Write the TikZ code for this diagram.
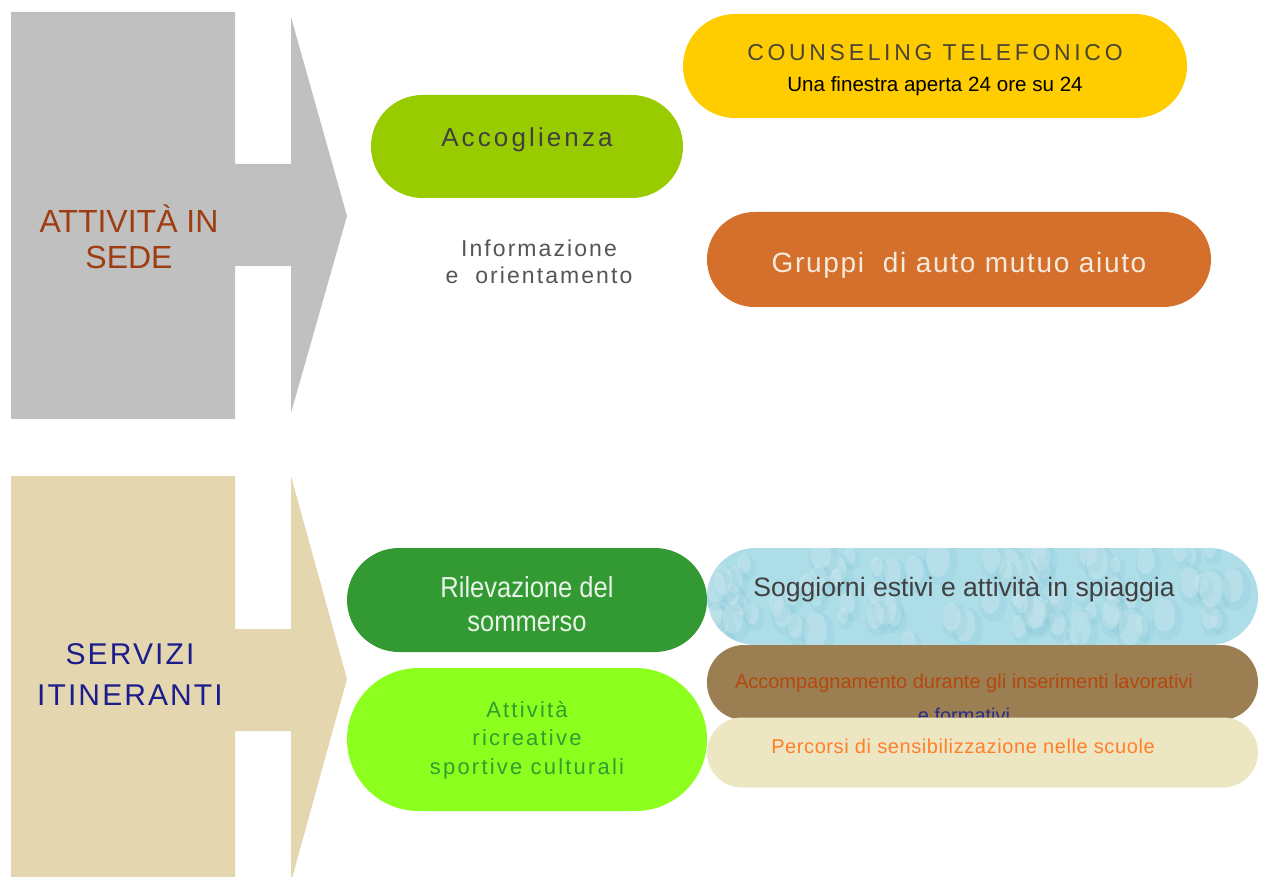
\documentclass[tikz,border=0pt]{standalone}
\usepackage{fontspec}
\setmainfont{Liberation Sans}
\newfontfamily\narrowfont[FakeStretch=0.88]{Liberation Sans}
\usetikzlibrary{positioning}

\definecolor{sedegrey}{HTML}{C0C0C0}
\definecolor{itintan}{HTML}{E4D7B0}
\definecolor{sedetext}{HTML}{9E3D12}
\definecolor{itintext}{HTML}{1C1C8C}
\definecolor{counsyellow}{HTML}{FFCC00}
\definecolor{counstext}{HTML}{4A4536}
\definecolor{accogreen}{HTML}{99CC00}
\definecolor{darktext}{HTML}{404040}
\definecolor{infotext}{HTML}{555555}
\definecolor{gruppiorange}{HTML}{D46F2C}
\definecolor{gruppitext}{HTML}{F5EBDD}
\definecolor{rilegreen}{HTML}{339933}
\definecolor{riletext}{HTML}{E8F4E8}
\definecolor{attigreen}{HTML}{8CFF1F}
\definecolor{attitext}{HTML}{2E9E2E}
\definecolor{soggblue}{HTML}{ADDEE8}
\definecolor{dropshade}{HTML}{6FB9CC}
\definecolor{accombrown}{HTML}{9B7F52}
\definecolor{accomtext}{HTML}{B5480F}
\definecolor{formtext}{HTML}{2A2A8A}
\definecolor{percbeige}{HTML}{ECE6C3}
\definecolor{perctext}{HTML}{FF7F2A}

\begin{document}
\begin{tikzpicture}[x=1pt,y=-1pt,
pill/.style={rectangle, rounded corners=#1, inner sep=0pt, draw=none},
lbl/.style={anchor=base, align=center, inner sep=0pt},
]
\useasboundingbox (0,0) rectangle (1262,877);

% the two big arrows
\begin{scope}
\clip (0,0) rectangle (1262,877);
\fill[sedegrey] (11,12) -- (235,12) -- (235,164) -- (291,164) -- (291,17) -- (347,216)
  -- (291,413) -- (291,266) -- (235,266) -- (235,419) -- (11,419) -- cycle;
\fill[itintan] (11,476) -- (235,476) -- (235,629) -- (291,629) -- (291,476) -- (347,679)
  -- (291,882) -- (291,731) -- (235,731) -- (235,890) -- (11,890) -- cycle;
\end{scope}
\node[lbl, text=sedetext, font=\fontsize{32}{36}\selectfont] (sede) at (129,269) {ATTIVITÀ IN\\SEDE};
\node[lbl, text=itintext, font=\fontsize{30}{41}\selectfont\addfontfeature{LetterSpace=7}] (itin) at (130,705) {SERVIZI\\ITINERANTI};

% in sede
\node[pill=52, fill=counsyellow, minimum width=504, minimum height=104] (couns) at (935,66) {};
\node[lbl, text=counstext, font=\fontsize{23}{26}\selectfont\addfontfeature{LetterSpace=16}] (counstitle) at (935,61) {COUNSELING TELEFONICO};
\node[lbl, font=\fontsize{20.6}{24}\selectfont] (counssub) at (935,92) {Una finestra aperta 24 ore su 24};

\node[pill=51.5, fill=accogreen, minimum width=312, minimum height=103] (acco) at (527,146.5) {};
\node[lbl, text=darktext, font=\fontsize{26}{30}\selectfont\addfontfeature{LetterSpace=12}] (accotext) at (527,147) {Accoglienza};

\node[lbl, text=infotext, font=\fontsize{23}{27}\selectfont\addfontfeature{LetterSpace=9}] (info) at (539,284) {Informazione\\e\ \ orientamento};

\node[pill=47.5, fill=gruppiorange, minimum width=504, minimum height=95] (gruppi) at (959,259.5) {};
\node[lbl, text=gruppitext, font=\fontsize{28}{32}\selectfont\addfontfeature{LetterSpace=6}] (gruppitext) at (959,273) {Gruppi\ \ di auto mutuo aiuto};

% itineranti
\node[pill=52, fill=rilegreen, minimum width=360, minimum height=104] (rile) at (527,600) {};
\node[lbl, text=riletext, font=\narrowfont\fontsize{29}{34}\selectfont] (riletext) at (527,631) {Rilevazione del\\sommerso};

\node[pill=71.5, fill=attigreen, minimum width=360, minimum height=143] (atti) at (527,739.5) {};
\node[lbl, text=attitext, font=\fontsize{22}{28.5}\selectfont\addfontfeature{LetterSpace=10}] (attitext) at (527,774) {Attività\\ricreative\\sportive culturali};

\node[pill=48.5, fill=soggblue, minimum width=551, minimum height=97] (sogg) at (982.5,596.5) {};
\begin{scope}
\clip[rounded corners=48.5] (sogg.south west) rectangle (sogg.north east);
\pgfmathsetseed{11}
\foreach \i in {1,...,80}{
  \pgfmathsetmacro{\dx}{707+rnd*551}
  \pgfmathsetmacro{\dy}{548+rnd*97}
  \pgfmathsetmacro{\dr}{7+rnd*10}
  \fill[dropshade, opacity=0.14] (\dx+3,\dy+4) ellipse ({\dr} and {1.4*\dr});
  \fill[white, opacity=0.20] (\dx,\dy) ellipse ({0.7*\dr} and {1.1*\dr});
}
\end{scope}
\node[lbl, text=darktext, font=\fontsize{26.6}{30}\selectfont] (soggtext) at (964,596) {Soggiorni estivi e attività in spiaggia};

\node[pill=37, fill=accombrown, minimum width=551, minimum height=75] (accom) at (982.5,682.5) {};
\node[lbl, text=accomtext, font=\fontsize{20}{34}\selectfont] (accomtext) at (964,722) {Accompagnamento durante gli inserimenti lavorativi\\{\color{formtext}e formativi}};

\node[pill=35, fill=percbeige, minimum width=551, minimum height=70] (perc) at (982.5,752.5) {};
\node[lbl, text=perctext, font=\fontsize{20}{24}\selectfont\addfontfeature{LetterSpace=3}] (perctext) at (963,753) {Percorsi di sensibilizzazione nelle scuole};
\end{tikzpicture}
\end{document}
